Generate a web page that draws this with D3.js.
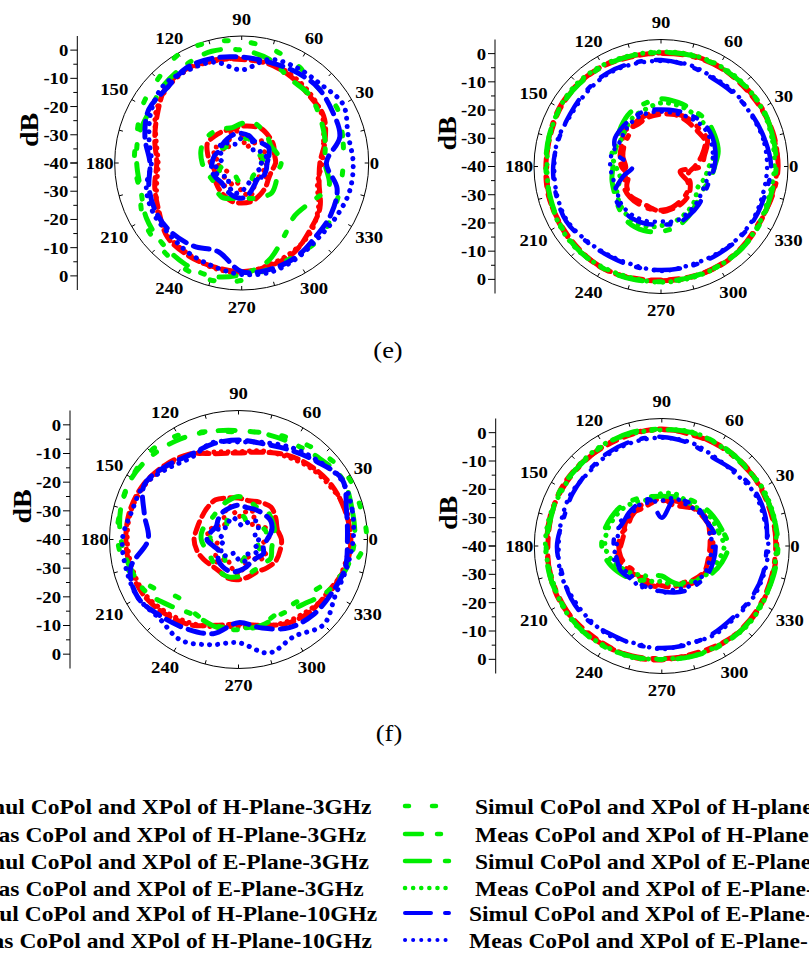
<!DOCTYPE html>
<html>
<head>
<meta charset="utf-8">
<script src="https://cdn.jsdelivr.net/npm/d3@7"></script>
<style>
  body { margin: 0; background: #fff; }
  svg { display: block; }
  text { font-family: "Liberation Serif", "Times New Roman", serif; }
</style>
</head>
<body>
<svg id="chart" width="809" height="957"></svg>
<script>
// ---- angles (deg) at which every pattern is sampled ----
const angles = [0, 15, 30, 45, 60, 75, 90, 105, 120, 135, 150, 165,
                180, 195, 210, 225, 240, 255, 270, 285, 300, 315, 330, 345];
const angleTicks = [0, 30, 60, 90, 120, 150, 180, 210, 240, 270, 300, 330];
const radialTicks = [0, -10, -20, -30, -40];
const panelTags = ["(e)", "(f)"];

// ---- (e) H-plane, CoPol (co) and XPol (x), dB ----
const eH_red_sim_co   = [-12.3, -9.4, -6.5, -6.2, -4.8, -3.6, -3.3, -2.2, -1.4, -2.0, -5.5, -8.1, -9.9, -8.1, -6.1, -2.8, -2.1, -1.9, -1.5, -2.2, -3.2, -6.0, -8.0, -11.6];
const eH_red_meas_co  = [-11.5, -10.0, -7.0, -5.5, -4.2, -3.0, -2.8, -2.6, -1.8, -2.6, -4.8, -8.6, -10.4, -8.8, -5.6, -3.4, -2.6, -1.5, -1.2, -2.6, -3.8, -5.4, -8.6, -12.2];
const eH_red_sim_x    = [-28, -28, -27, -26.5, -26, -26.5, -27, -27.5, -27, -26.5, -26, -27.5, -29, -30, -29, -28, -27, -26, -25.8, -26, -27, -28, -29, -29];
const eH_red_meas_x   = [-31, -33, -30, -29, -32, -34, -30, -28, -31, -33, -29, -30, -32, -31, -34, -29, -31, -33, -30, -28, -31, -33, -30, -32];
const eH_green_sim_co = [-4, -3, -1, -2, -0.2, 1.7, 3.1, 4.2, 4.5, 2, 0.6, -1.5, -2, -2.5, 0.2, 1.5, 2.5, 2.9, 1.6, -1.5, -2, -1.5, -3, -4];
const eH_green_meas_co= [-10.5, -9.4, -7.9, -6, -5.6, -2, 0, 1, 0, -1, -2.5, -2.2, -2.8, -3, -1, 0, 1, 1.5, -0.5, -4, -10, -13.5, -12, -8];
const eH_green_sim_x  = [-33, -32, -34, -35, -33, -31, -32, -34, -33, -32, -31, -33, -34, -32, -31, -33, -35, -34, -32, -31, -33, -34, -32, -31];
const eH_green_meas_x = [-26, -27, -28, -27, -26, -25, -26, -27, -26, -25, -24.5, -25, -26, -27, -28, -27, -26, -27, -28, -27, -26, -25, -26, -27];
const eH_blue_sim_co  = [-10, -4, -3, -2, -2.5, -3, -2.5, -1.5, -1, -2.5, -2, -4.5, -7.5, -6, -5, -5, -6, -7.5, -1.5, -1, -1.5, -3, -3.5, -5];
const eH_blue_meas_co = [-0.5, -1, 1.5, -0.5, -1, -2, -7, -3, -2, -1, -3, -6, -8, -5, -4, -4, -3, -2, -0.5, 0, -1, -2, -1.5, -0.5];
const eH_blue_sim_x   = [-31, -30, -29, -30, -31, -30, -29.5, -29.5, -30, -30.5, -31, -30, -29.5, -29, -29.5, -30, -29, -28, -27.5, -29, -31, -32, -31, -31];
const eH_blue_meas_x  = [-33, -31, -32, -34, -32, -30, -31, -33, -32, -30, -31, -33, -32, -30, -31, -33, -31, -29, -30, -32, -33, -31, -32, -34];

// ---- (e) E-plane ----
const eE_red_sim_co   = [1.5, 1.2, 1.3, 1, 0.8, 0.5, 0, 0.5, 1.2, 1.5, 1.6, 1, 0.5, 1, 1.3, 1.5, 1.4, 1, 0.5, 0.7, 0.6, 0.5, 0, 0.8];
const eE_red_meas_co  = [1.2, 1.5, 1.0, 0.7, 1.0, 0.8, 0.3, 0.2, 1.0, 1.3, 1.2, 0.7, 0.8, 1.2, 1.0, 1.2, 1.6, 0.8, 0.2, 0.4, 0.9, 0.7, 0.3, 0.5];
const eE_red_sim_x    = [-26, -24, -21, -21, -20.5, -20.5, -20.5, -21, -22, -24, -25, -26, -27.5, -27, -25, -24.5, -24.5, -24.5, -24.5, -25, -26, -27, -29, -33];
const eE_red_meas_x   = [-28, -25, -22, -22, -21.5, -21, -21.5, -22, -23, -22, -24, -25, -26, -28, -26, -25, -25.5, -25, -24, -24.5, -25, -26, -28, -30];
const eE_green_sim_co = [0.8, 1.0, 1.5, 1.2, 1.0, 0.8, 0.4, 0.6, 1.0, 1.2, 1.3, 1.1, 0.8, 0.7, 1.2, 1.6, 1.5, 1.2, 0.8, 0.6, 0.7, 0.8, 0.5, 0.2];
const eE_green_meas_co= [0.2, 0.6, 1.2, 1.4, 1.3, 1.0, 0.6, 0.8, 1.4, 1.8, 1.5, 0.8, 0.4, 0.8, 1.5, 1.8, 1.2, 0.8, 1.0, 0.9, 0.8, 0.6, 0.2, -0.3];
const eE_green_sim_x  = [-21, -19, -18, -17, -17, -16.5, -16, -17, -18, -20, -22, -23, -23, -22, -21, -19, -17, -16.5, -17, -18, -20, -22, -23, -22];
const eE_green_meas_x = [-23, -20, -19, -18.5, -18, -17.5, -17.5, -19, -20, -22, -23, -22, -24, -25, -22, -20, -18.5, -18, -19, -20, -21.5, -23, -25, -24];
const eE_blue_sim_co  = [-1, -2, -2.9, -3.5, -3.8, -3, -2.3, -2, -1.8, -2.3, -2.8, -2.5, -1.8, -1.5, -1.2, -2.5, -3.3, -3.3, -3.3, -3.2, -3, -2.5, -2, -1.8];
const eE_blue_meas_co = [-2.4, -2.5, -3.2, -3, -3.4, -2.6, -2.6, -2.4, -2.2, -2.8, -3.2, -2.2, -2.2, -1.8, -1.6, -2.8, -3.6, -3.8, -3, -3.6, -3.4, -2.8, -2.4, -2.6];
const eE_blue_sim_x   = [-21, -20, -19, -18.5, -19, -19.5, -19.8, -19.5, -20, -20.5, -21, -24, -30, -26, -21, -19.5, -19, -19, -19.5, -19, -20, -21, -22, -22];
const eE_blue_meas_x  = [-22, -21, -20, -19.5, -20, -20.5, -20.5, -20.5, -21, -22, -23, -22, -22, -22.5, -22, -20.5, -20, -20, -20.5, -20, -21, -22, -23, -23];

// ---- (f) H-plane ----
const fH_red_sim_co   = [-0.8, -1.5, -2.4, -4, -6, -8.5, -9.8, -9, -5.6, -3.5, -1.7, -0.8, -0.7, -1, -1.6, -3.5, -5.7, -9, -10.5, -9, -6.2, -4.5, -3.8, -1.5];
const fH_red_meas_co  = [-1.2, -1.0, -3.0, -4.6, -6.6, -8.0, -9.4, -8.4, -6.2, -4.0, -2.2, -1.2, -1.2, -1.6, -2.2, -4.2, -6.4, -8.4, -9.6, -8.4, -6.8, -5.2, -3.2, -2.0];
const fH_red_sim_x    = [-25, -26, -25, -24, -25, -26, -25.5, -25, -24, -24.5, -25, -25, -24.5, -25, -26, -27, -27, -26, -26, -26.5, -27, -26, -25, -25];
const fH_red_meas_x   = [-30, -28, -31, -33, -29, -30, -32, -28, -30, -33, -31, -29, -30, -33, -31, -29, -32, -30, -28, -31, -33, -30, -29, -32];
const fH_green_sim_co = [4.5, 4, 4, 2, 0, -1.5, -2.5, -1, 2, 3.5, 3, 2.5, 2.2, 0, -6, -11, -10, -9, -9, -9.5, -11, -10, -7, 0];
const fH_green_meas_co= [0.5, 1, 2, 0, -1.5, -2, -2, -1, 0.5, 2, 3, 2.5, 1, -1, -3, -7, -9.5, -8.5, -8.5, -9, -10, -8, -4, -1];
const fH_green_sim_x  = [-32, -30, -31, -33, -34, -32, -31, -30, -32, -34, -33, -31, -30, -32, -34, -33, -31, -30, -31, -33, -34, -32, -31, -33];
const fH_green_meas_x = [-28, -27, -26.5, -26, -27, -26, -25, -26, -27, -28, -28, -27, -27, -28, -28.5, -28, -27, -26.5, -27, -27.5, -28, -28, -27, -28];
const fH_blue_sim_co  = [-2, -1, 1.8, -1.5, -4, -5.5, -5.3, -5.5, -6, -4, -2, -6, -8.5, -1, 0.5, -2, -4, -6, -11, -8, -4.5, -3, -2.5, -1.5];
const fH_blue_meas_co = [0, 1, 1.5, -1, -3, -5, -6, -5, -7, -5, -2, -1.5, 0.5, 0.5, 0.5, -1, 0.5, -2, -4, 1, -1, 2, -1, -1];
const fH_blue_sim_x   = [-30, -28, -27, -27.5, -28, -28.5, -28, -28.5, -29, -30, -31, -30, -29, -31, -32, -30, -29, -28.5, -29, -30, -31, -31, -30, -31];
const fH_blue_meas_x  = [-33, -34, -32, -31, -33, -35, -34, -32, -33, -34, -32, -33, -35, -34, -33, -32, -34, -35, -33, -32, -34, -33, -32, -34];

// ---- (f) E-plane ----
const fE_red_sim_co   = [0.2, 0.5, 0.8, 0.5, 0.7, 1, 1, 1.2, 0.8, 0.4, 0.5, 0.8, 0.6, 0.5, 0.5, 0.7, 0.5, 0.2, -0.3, 0, 0.5, 0.6, 0.4, 0.2];
const fE_red_meas_co  = [0.6, 0.2, 0.4, 0.9, 1.0, 0.6, 1.3, 0.8, 0.5, 0.8, 0.9, 0.4, 0.2, 0.8, 0.9, 0.3, 0.1, 0.5, 0.2, -0.4, 0.2, 0.9, 0.7, 0.5];
const fE_red_sim_x    = [-22, -21.5, -22, -22.5, -23, -23.5, -24, -23.5, -24, -25, -26, -25, -24.8, -25, -26, -27, -26, -25.6, -25.5, -26, -24, -22.5, -22, -22];
const fE_red_meas_x   = [-23, -22.5, -21.5, -22, -24, -25, -23, -24.5, -25, -24, -25, -26, -25.5, -24, -25, -26, -27, -26.5, -26, -25, -25, -23.5, -22.5, -23];
const fE_green_sim_co = [1, 0.8, 0.6, 0.8, 1.2, 1.4, 1.2, 1.5, 1.0, 0.6, 0.9, 0.4, 0.8, 0.9, 0.7, 1.0, 0.9, 0.4, 0.1, 0.4, 0.8, 0.9, 0.6, 0.8];
const fE_green_meas_co= [0.4, 0.9, 1.0, 0.5, 0.9, 1.6, 1.0, 1.0, 1.3, 0.9, 0.3, 0.9, 1.1, 0.4, 0.9, 1.2, 0.6, 0.7, -0.2, 0.3, 0.4, 1.2, 0.9, 0.5];
const fE_green_sim_x  = [-16.5, -18, -19, -20, -21, -22, -22.4, -22, -21, -20, -19.5, -19, -18.8, -20, -22, -24, -26, -29, -29.4, -27, -24, -22.6, -20, -18];
const fE_green_meas_x = [-18, -19.5, -20, -21.5, -22, -21, -21.5, -23, -22, -21, -20.5, -20, -20, -21.5, -24, -26, -28, -27, -27.5, -26, -25, -23, -21, -19.5];
const fE_blue_sim_co  = [-3, -2, -1.8, -3, -4, -2.5, -1.5, -1.5, -2, -3, -3.5, -4, -3, -3.5, -3, -3, -4, -4, -4, -4, -4.2, -4.4, -3.5, -3];
const fE_blue_meas_co = [-2.4, -2.6, -2.4, -3.6, -3.4, -2.0, -1.8, -2.0, -2.6, -3.4, -3.0, -3.4, -3.6, -3.0, -3.6, -3.6, -3.4, -4.4, -3.6, -4.4, -3.6, -3.8, -3.0, -2.6];
const fE_blue_sim_x   = [-21, -21, -22, -21.5, -22, -23, -30, -23, -23, -23.5, -24, -23, -23, -23.5, -23, -24, -24.5, -24.5, -24, -23, -22, -21.5, -21, -21];
const fE_blue_meas_x  = [-22, -22.5, -21.5, -22.5, -23, -22.5, -24, -24, -23.5, -24.5, -23, -24, -24, -22.5, -24, -25, -23.5, -25, -23.5, -24, -23, -22.5, -22, -22.5];

// ---- legend labels ----
const legendLeft = [
  "Simul CoPol and XPol of H-Plane-3GHz",
  "Meas CoPol and XPol of H-Plane-3GHz",
  "Simul CoPol and XPol of E-Plane-3GHz",
  "Meas CoPol and XPol of E-Plane-3GHz",
  "Simul CoPol and XPol of H-Plane-10GHz",
  "Meas CoPol and XPol of H-Plane-10GHz"
];
const legendRight = [
  "Simul CoPol and XPol of H-plane-6GHz",
  "Meas CoPol and XPol of H-Plane-6GHz",
  "Simul CoPol and XPol of E-Plane-6GHz",
  "Meas CoPol and XPol of E-Plane-6GHz",
  "Simul CoPol and XPol of E-Plane-10GHz",
  "Meas CoPol and XPol of E-Plane-10GHz"
];

// ---- styles ----
const RED = "#ff0000", GREEN = "#00ee00", BLUE = "#0000ff";
const styles = {
  H: {
    red_sim:    { color: RED,   width: 5,   dash: "12,6" },
    red_meas:   { color: RED,   width: 5,   dash: "0.1,7" },
    green_sim:  { color: GREEN, width: 5,   dash: "4,23" },
    green_meas: { color: GREEN, width: 5,   dash: "17,15,4,15" },
    blue_sim:   { color: BLUE,  width: 5,   dash: "16,8" },
    blue_meas:  { color: BLUE,  width: 5,   dash: "0.1,8" }
  },
  E: {
    red_sim:    { color: RED,   width: 5,   dash: "20,10,3,10" },
    red_meas:   { color: RED,   width: 5,   dash: "10,8" },
    green_sim:  { color: GREEN, width: 5,   dash: "25,15,4,15" },
    green_meas: { color: GREEN, width: 5,   dash: "0.1,8" },
    blue_sim:   { color: BLUE,  width: 4.5, dash: "26,14,4,14" },
    blue_meas:  { color: BLUE,  width: 4.5, dash: "0.1,8" }
  }
};
const drawOrder = ["red_sim", "red_meas", "green_sim", "green_meas", "blue_sim", "blue_meas"];

const panels = [
  { plane: "H", cx: 241.7, cy: 163,   R: 127,   axisX: 77.3, clipTop: true,
    data: { red_sim: [eH_red_sim_co, eH_red_sim_x], red_meas: [eH_red_meas_co, eH_red_meas_x],
            green_sim: [eH_green_sim_co, eH_green_sim_x], green_meas: [eH_green_meas_co, eH_green_meas_x],
            blue_sim: [eH_blue_sim_co, eH_blue_sim_x], blue_meas: [eH_blue_meas_co, eH_blue_meas_x] } },
  { plane: "E", cx: 661,   cy: 166.5, R: 127,   axisX: 495,  clipTop: true,
    data: { red_sim: [eE_red_sim_co, eE_red_sim_x], red_meas: [eE_red_meas_co, eE_red_meas_x],
            green_sim: [eE_green_sim_co, eE_green_sim_x], green_meas: [eE_green_meas_co, eE_green_meas_x],
            blue_sim: [eE_blue_sim_co, eE_blue_sim_x], blue_meas: [eE_blue_meas_co, eE_blue_meas_x] } },
  { plane: "H", cx: 238.5, cy: 539.5, R: 129,   axisX: 70,   clipTop: false,
    data: { red_sim: [fH_red_sim_co, fH_red_sim_x], red_meas: [fH_red_meas_co, fH_red_meas_x],
            green_sim: [fH_green_sim_co, fH_green_sim_x], green_meas: [fH_green_meas_co, fH_green_meas_x],
            blue_sim: [fH_blue_sim_co, fH_blue_sim_x], blue_meas: [fH_blue_meas_co, fH_blue_meas_x] } },
  { plane: "E", cx: 661.8, cy: 546,   R: 127.5, axisX: 495.7, clipTop: false,
    data: { red_sim: [fE_red_sim_co, fE_red_sim_x], red_meas: [fE_red_meas_co, fE_red_meas_x],
            green_sim: [fE_green_sim_co, fE_green_sim_x], green_meas: [fE_green_meas_co, fE_green_meas_x],
            blue_sim: [fE_blue_sim_co, fE_blue_sim_x], blue_meas: [fE_blue_meas_co, fE_blue_meas_x] } }
];

const svg = d3.select("#chart");
const SX = 1.1; // the serif face in this figure is set a little wide
const TICK_FONT = 17;

svg.append("defs").append("clipPath").attr("id", "topRow")
  .append("rect").attr("x", 0).attr("y", 0).attr("width", 809).attr("height", 316);

function stretchedText(g, x, y, str, opts) {
  return g.append("text")
    .attr("transform", `translate(${x},${y}) scale(${opts.sx || SX},1)`)
    .attr("text-anchor", opts.anchor || "middle")
    .attr("dy", opts.dy || "0.35em")
    .attr("font-size", opts.size)
    .attr("font-weight", opts.weight || "bold")
    .attr("fill", "#000")
    .text(str);
}

panels.forEach(p => {
  const g = svg.append("g");
  if (p.clipTop) g.attr("clip-path", "url(#topRow)");
  const r = d3.scaleLinear().domain([-40, 5]).range([0, p.R]);
  const plot = g.append("g").attr("transform", `translate(${p.cx},${p.cy})`);

  // frame circle with angular ticks every 15 degrees
  plot.append("circle").attr("r", p.R).attr("fill", "none").attr("stroke", "#000").attr("stroke-width", 1);
  plot.selectAll("line.atick").data(angles).join("line")
    .attr("x1", d => p.R * Math.cos(d * Math.PI / 180))
    .attr("y1", d => -p.R * Math.sin(d * Math.PI / 180))
    .attr("x2", d => (p.R - 4) * Math.cos(d * Math.PI / 180))
    .attr("y2", d => -(p.R - 4) * Math.sin(d * Math.PI / 180))
    .attr("stroke", "#000").attr("stroke-width", 1);

  // pattern curves
  const line = d3.lineRadial()
    .angle(d => (90 - d[0]) * Math.PI / 180)
    .radius(d => r(d[1]))
    .curve(d3.curveCatmullRomClosed.alpha(0.5));
  drawOrder.forEach(key => {
    const st = styles[p.plane][key];
    p.data[key].forEach(vals => {
      plot.append("path")
        .attr("d", line(angles.map((a, i) => [a, vals[i]])))
        .attr("fill", "none")
        .attr("stroke", st.color)
        .attr("stroke-width", st.width)
        .attr("stroke-dasharray", st.dash)
        .attr("stroke-linecap", "round")
        .attr("stroke-linejoin", "round");
    });
  });

  // angle labels
  angleTicks.forEach(a => {
    const t = a * Math.PI / 180, c = Math.cos(t), s = Math.sin(t);
    const probe = stretchedText(g, 0, 0, String(a), { size: TICK_FONT });
    const hw = probe.node().getComputedTextLength() * SX / 2, hh = 10;
    probe.remove();
    const gap = 1 + 6 * Math.abs(s);
    const dBox = Math.min(Math.abs(c) > 1e-6 ? hw / Math.abs(c) : Infinity,
                          Math.abs(s) > 1e-6 ? hh / Math.abs(s) : Infinity);
    const d = p.R + gap + dBox;
    stretchedText(g, p.cx + d * c, p.cy - d * s, String(a), { size: TICK_FONT });
  });

  // radial axis on the left, mirrored about the centre
  const ax = g.append("g");
  ax.append("line").attr("x1", p.axisX).attr("x2", p.axisX)
    .attr("y1", p.cy - p.R).attr("y2", p.cy + p.R).attr("stroke", "#000").attr("stroke-width", 1);
  const minorVals = [-35, -25, -15, -5];
  [-1, 1].forEach(side => {
    radialTicks.forEach(v => {
      const y = p.cy + side * r(v);
      ax.append("line").attr("x1", p.axisX - 7).attr("x2", p.axisX).attr("y1", y).attr("y2", y)
        .attr("stroke", "#000").attr("stroke-width", 1);
      if (!(v === -40 && side === 1)) {
        stretchedText(ax, p.axisX - 9, y, String(v), { size: TICK_FONT, anchor: "end" });
      }
    });
    minorVals.forEach(v => {
      const y = p.cy + side * r(v);
      ax.append("line").attr("x1", p.axisX - 4).attr("x2", p.axisX).attr("y1", y).attr("y2", y)
        .attr("stroke", "#000").attr("stroke-width", 1);
    });
  });
  g.append("text")
    .attr("transform", `translate(${p.axisX - 39},${p.cy - 33}) rotate(-90) scale(1.12,1)`)
    .attr("text-anchor", "middle")
    .attr("font-size", 25).attr("font-weight", "bold").text("dB");
});

// panel tags
stretchedText(svg, 388, 350, panelTags[0], { size: 23, weight: "normal", sx: 1.15 });
stretchedText(svg, 389, 733, panelTags[1], { size: 23, weight: "normal", sx: 1.15 });

// legend
const legendY = [814, 842, 869, 896, 921, 948];
const leftKeys  = [["H", "red_sim"], ["H", "red_meas"], ["E", "red_sim"], ["E", "red_meas"], ["H", "blue_sim"], ["H", "blue_meas"]];
const rightKeys = [["H", "green_sim"], ["H", "green_meas"], ["E", "green_sim"], ["E", "green_meas"], ["E", "blue_sim"], ["E", "blue_meas"]];

function legendColumn(labels, keys, sampleX, textX) {
  labels.forEach((lab, i) => {
    const st = styles[keys[i][0]][keys[i][1]];
    const y = legendY[i];
    const shift = i >= 4 ? -6 : 0;
    svg.append("line")
      .attr("x1", sampleX + 2).attr("x2", sampleX + 48)
      .attr("y1", y - 8).attr("y2", y - 8)
      .attr("stroke", st.color).attr("stroke-width", st.width - 0.5)
      .attr("stroke-dasharray", st.dash).attr("stroke-linecap", "round");
    stretchedText(svg, textX + shift, y, lab, { size: 21, anchor: "start", dy: "0", sx: 1.12 });
  });
}
legendColumn(legendLeft, leftKeys, -110, -34);
legendColumn(legendRight, rightKeys, 403, 475);
</script>
</body>
</html>
